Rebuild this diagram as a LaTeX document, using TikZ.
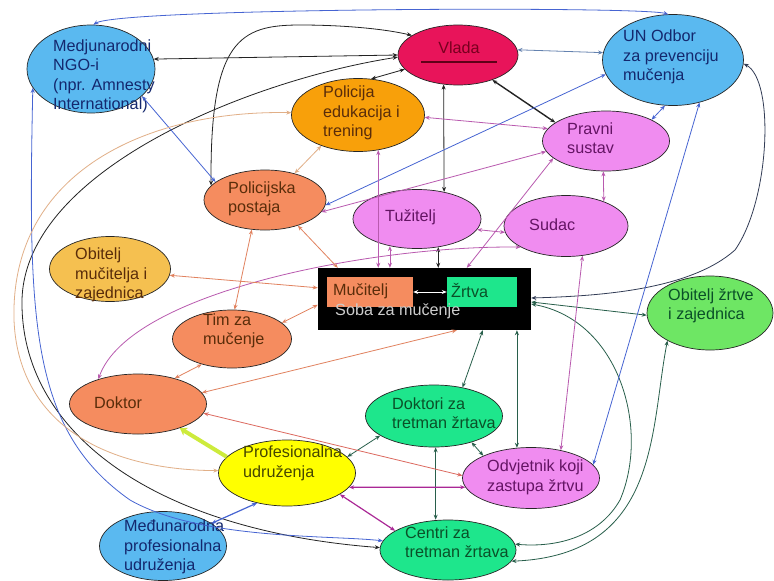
\documentclass[tikz,border=0pt]{standalone}
\usepackage{fontspec}
\setmainfont{Liberation Sans}
\usetikzlibrary{shapes.geometric,arrows.meta,calc}
\definecolor{fblue}{RGB}{90,185,240}
\definecolor{fred}{RGB}{232,20,90}
\definecolor{forange}{RGB}{248,160,10}
\definecolor{fsal}{RGB}{245,140,95}
\definecolor{fomz}{RGB}{245,192,80}
\definecolor{fvio}{RGB}{240,140,240}
\definecolor{fozz}{RGB}{110,230,100}
\definecolor{fteal}{RGB}{30,230,140}
\definecolor{fyel}{RGB}{255,255,0}
\definecolor{tblue}{RGB}{20,40,110}
\definecolor{tred}{RGB}{120,0,30}
\definecolor{tbrown}{RGB}{90,45,10}
\definecolor{tpur}{RGB}{100,20,100}
\definecolor{tgreen}{RGB}{10,80,40}
\definecolor{tolive}{RGB}{70,70,0}
\definecolor{cblk}{RGB}{35,35,35}
\definecolor{cslate}{RGB}{50,60,85}
\definecolor{cbl}{RGB}{70,100,210}
\definecolor{cgb}{RGB}{100,130,175}
\definecolor{cmv}{RGB}{185,90,175}
\definecolor{csal}{RGB}{225,130,95}
\definecolor{cred}{RGB}{220,105,95}
\definecolor{ctan}{RGB}{225,175,135}
\definecolor{cdg}{RGB}{40,95,75}
\definecolor{cpur}{RGB}{170,40,150}
\definecolor{cyg}{RGB}{205,235,60}
\begin{document}
\begin{tikzpicture}[x=1pt,y=-1pt,
  >={Stealth[length=5pt,width=4pt]},
  ell/.style={ellipse, draw=black!85, line width=0.7pt, inner sep=0pt},
  txt/.style={anchor=west, align=left, inner sep=0pt, font=\fontsize{16.2}{19.5}\selectfont},
  con/.style={line width=0.8pt, <->},
  eblk/.style={con, draw=cblk},
  eslate/.style={con, draw=cslate},
  eblu/.style={con, draw=cbl},
  egb/.style={con, draw=cgb},
  emv/.style={con, draw=cmv},
  esal/.style={con, draw=csal},
  ered/.style={con, draw=cred},
  etan/.style={con, draw=ctan},
  edg/.style={con, draw=cdg},
  epur/.style={con, draw=cpur, line width=1.2pt},
  eyg/.style={draw=cyg, line width=4pt, -{Stealth[length=7pt,width=9pt]}}
]
\useasboundingbox[fill=white] (0,0) rectangle (774,581);

% ellipses
\node[ell, fill=fblue, minimum width=128pt, minimum height=88pt] (ngo) at (91,69) {};
\node[ell, fill=fred, minimum width=120pt, minimum height=60pt] (vlada) at (458,55) {};
\node[ell, fill=fblue, minimum width=141pt, minimum height=91pt] (un) at (673,60) {};
\node[ell, fill=forange, minimum width=133pt, minimum height=73pt] (ped) at (358,115) {};
\node[ell, fill=fvio, minimum width=127pt, minimum height=60pt] (pravni) at (606,141) {};
\node[ell, fill=fsal, minimum width=122pt, minimum height=60pt] (pp) at (265,200) {};
\node[ell, fill=fvio, minimum width=128pt, minimum height=59pt] (tuz) at (417,219) {};
\node[ell, fill=fvio, minimum width=124pt, minimum height=61pt] (sudac) at (566,226) {};
\node[ell, fill=fomz, minimum width=121pt, minimum height=65pt] (omz) at (110,269) {};
\node[ell, fill=fozz, minimum width=126pt, minimum height=74pt] (ozz) at (710,313) {};
\node[ell, fill=fsal, minimum width=119pt, minimum height=58pt] (tim) at (232,339) {};
\node[ell, fill=fsal, minimum width=137pt, minimum height=60pt] (doktor) at (138,404) {};
\node[ell, fill=fteal, minimum width=137pt, minimum height=62pt] (dzt) at (434,416) {};
\node[ell, fill=fyel, minimum width=137pt, minimum height=66pt] (prof) at (287,473) {};
\node[ell, fill=fvio, minimum width=137pt, minimum height=61pt] (odv) at (531,478) {};
\node[ell, fill=fblue, minimum width=127pt, minimum height=69pt] (mpu) at (163,546) {};
\node[ell, fill=fteal, minimum width=136pt, minimum height=60pt] (ctz) at (448,550) {};

% torture room
\node[fill=black, minimum width=213pt, minimum height=62pt, inner sep=0pt] (box) at (424.5,299) {};
\node[fill=fsal, minimum width=86pt, minimum height=30pt, inner sep=0pt] (muc) at (370,292) {};
\node[fill=fteal, minimum width=70pt, minimum height=30pt, inner sep=0pt] (zrt) at (482,292) {};

% texts
\node[txt, text=tblue] (ngot) at (53,76.5) {Medjunarodni\\NGO-i\\(npr. Amnesty\\International)};
\node[txt, text=tred, anchor=center] (vladat) at (459,48) {Vlada};
\draw[tred!80!black, line width=1.2pt] ($(vlada.center)+(-37,7)$) -- ++(76,0);
\node[txt, text=tblue] (unt) at (623,57) {UN Odbor\\za prevenciju\\mučenja};
\node[txt, text=tbrown] (pedt) at (323,113) {Policija\\edukacija i\\trening};
\node[txt, text=tpur] (pravnit) at (567,138) {Pravni\\sustav};
\node[txt, text=tbrown] (ppt) at (228,199) {Policijska\\postaja};
\node[txt, text=tpur] (tuzt) at (385,217) {Tužitelj};
\node[txt, text=tpur] (sudact) at (529,225) {Sudac};
\node[txt, text=tbrown] (omzt) at (75,275) {Obitelj\\mučitelja i\\zajednica};
\node[txt, text=tgreen] (ozzt) at (668,306) {Obitelj žrtve\\i zajednica};
\node[txt, text=tbrown] (timt) at (203,331) {Tim za\\mučenje};
\node[txt, text=tbrown] (doktort) at (94,403) {Doktor};
\node[txt, text=tgreen] (dztt) at (392,413) {Doktori za\\tretman žrtava};
\node[txt, text=tolive] (proft) at (243,463.5) {Profesionalna\\udruženja};
\node[txt, text=tpur] (odvt) at (487,477.5) {Odvjetnik koji\\zastupa žrtvu};
\node[txt, text=tblue] (mput) at (124,547) {Međunarodna\\profesionalna\\udruženja};
\node[txt, text=tgreen] (ctzt) at (405,542) {Centri za\\tretman žrtava};
\node[txt, text=tbrown] (muct) at (333,291) {Mučitelj};
\node[txt, text=tgreen] (zrtt) at (451,290) {Žrtva};
\node[txt, text=black!20] (sobat) at (335,311) {Soba za mučenje};
\draw[white, <->, line width=1pt] (muc.east) -- (zrt.west);

% connectors
\draw[eblu] (ngo.87) .. controls (120,8) and (640,6) .. (un.96);
\draw[eblk] (ngo.9) -- (vlada.180);
\draw[eblk] (pp.165) .. controls (210,40) and (240,25) .. (300,25) .. controls (350,25) and (390,30) .. (vlada.157);
\draw[eblk] (vlada.182) .. controls (250,80) and (25,170) .. (22,300) .. controls (20,430) and (150,530) .. (ctz.178);
\draw[eblk] (vlada.195) -- (ped.70);
\draw[eblk, line width=1.4pt] (vlada.-36) -- (pravni.160);
\draw[egb] (vlada.5) -- (un.174);
\draw[eblk] (tuz.45) -- (vlada.-116);
\draw[eblk] (tuz.-53) -- (tuz.-53 |- box.north);
\draw[eblu] (pp.-5) -- (un.192);
\draw[emv] (pravni.190) -- (pp.-12);
\draw[emv] (ped.-2) -- (pravni.168);
\draw[eblu] (pravni.25) -- (un.-100);
\draw[emv] (pravni.-95) -- (sudac.33);
\draw[emv] (pravni.198) -- ($(box.north west)+(149,0)$);
\draw[emv] (tuz.-10) -- (sudac.186);
\draw[emv] (sudac.205) .. controls (380,245) and (130,290) .. (doktor.148);
\draw[emv] (ped.-60) -- (ped.-60 |- box.north);
\draw[emv] (tuz.-135) -- (tuz.-135 |- box.north);
\draw[edg] ($(box.east)+(0,3)$) -- (ozz.182);
\draw[eslate] (un.-3) .. controls (775,80) and (770,200) .. (735,250) .. controls (690,290) and (600,296) .. ($(box.east)+(0,-1)$);
\draw[edg] ($(box.east)+(0,5)$) .. controls (620,320) and (650,430) .. (620,500) .. controls (600,535) and (560,548) .. (ctz.5);
\draw[edg] ($(box.south west)+(165,0)$) -- (dzt.45);
\draw[edg] (odv.115 |- box.south) -- (odv.115);
\draw[emv] (sudac.-61) -- (odv.43);
\draw[eblu] (un.-58) -- (odv.12);
\draw[edg] (ozz.-147) .. controls (650,430) and (660,555) .. (ctz.-10);
\draw[edg] (dzt.-87) -- (dzt.-87 |- ctz.north);
\draw[edg] (dzt.-35) -- (odv.155);
\draw[edg] (prof.15) -- (dzt.200);
\draw[epur] (prof.-13) -- (odv.188);
\draw[epur] (prof.-22) -- (ctz.160);
\draw[ered] (doktor.-8) -- (odv.178);
\draw[eyg] (prof.165) -- (doktor.-30);
\draw[eblu, line width=1.2pt] (mpu.25) -- (prof.-135);
\draw[esal] (doktor.10) -- ($(box.south west)+(139,0)$);
\draw[esal] (tim.-140) -- (doktor.35);
\draw[esal] (tim.18) -- ($(box.north west)+(0,37)$);
\draw[esal] (tim.85) -- (pp.-114);
\draw[esal] (pp.-38) -- ($(box.north west)+(20,0)$);
\draw[etan] (pp.42) -- (ped.-140);
\draw[esal] (omz.-6) -- ($(box.north west)+(0,20)$);
\draw[eblu] (ngo.-28) -- (pp.160);
\draw[eblu] (ngo.198) .. controls (28,320) and (30,430) .. (130,500) .. controls (200,540) and (330,535) .. (ctz.172);
\draw[etan] (ped.178) .. controls (150,110) and (10,170) .. (14,320) .. controls (18,420) and (100,470) .. (prof.178);
\end{tikzpicture}
\end{document}
